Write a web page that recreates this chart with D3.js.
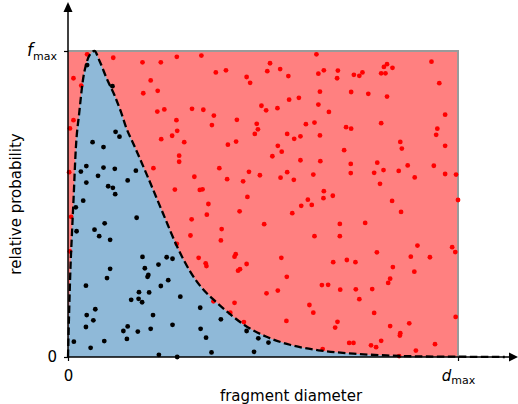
<!DOCTYPE html>
<html>
<head>
<meta charset="utf-8">
<script src="https://cdn.jsdelivr.net/npm/d3@7"></script>
<style>
  html, body { margin: 0; padding: 0; background: #fff; }
  svg text { font-family: "DejaVu Sans", sans-serif; fill: #000; }
</style>
</head>
<body>
<svg id="chart" width="518" height="404"></svg>
<script>
// ---- data (d = diameter / dmax, f = probability / fmax) ----
const xTickValues = [0, 1];
const xTickMain = ["0", "d"];
const xTickSub = ["", "max"];
const yTickValues = [0, 1];
const yTickMain = ["0", "f"];
const yTickSub = ["", "max"];
const xLabel = "fragment diameter";
const yLabel = "relative probability";

// dashed probability density curve
const curveD = [0, 0.003, 0.006, 0.010, 0.014, 0.020, 0.029, 0.039, 0.046, 0.057, 0.068, 0.080, 0.099, 0.119, 0.136, 0.150, 0.169, 0.206, 0.244, 0.283, 0.313, 0.343, 0.377, 0.411, 0.454, 0.509, 0.569, 0.642, 0.732, 0.817, 0.900, 1.000, 1.120];
const curveF = [0, 0.15, 0.28, 0.40, 0.51, 0.68, 0.80, 0.911, 0.954, 0.99, 1.0, 0.97, 0.911, 0.856, 0.80, 0.747, 0.693, 0.584, 0.468, 0.352, 0.280, 0.226, 0.183, 0.145, 0.103, 0.066, 0.040, 0.022, 0.011, 0.005, 0.002, 0.001, 0];

// accepted samples (black, under the curve)
const acceptedD = [0.049, 0.114, 0.122, 0.132, 0.063, 0.091, 0.033, 0.047, 0.091, 0.120, 0.077, 0.174, 0.047, 0.153, 0.103, 0.115, 0.121, 0.039, 0.020, 0.176, 0.094, 0.022, 0.068, 0.080, 0.108, 0.191, 0.253, 0.268, 0.232, 0.197, 0.108, 0.206, 0.204, 0.100, 0.257, 0.046, 0.238, 0.182, 0.208, 0.288, 0.162, 0.181, 0.190, 0.070, 0.048, 0.218, 0.065, 0.046, 0.153, 0.142, 0.212, 0.268, 0.179, 0.151, 0.093, 0.015, 0.058, 0.233, 0.280, 0.339, 0.392, 0.340, 0.354, 0.458, 0.488, 0.514, 0.368, 0.477];
const acceptedF = [0.954, 0.885, 0.736, 0.720, 0.702, 0.686, 0.606, 0.624, 0.619, 0.615, 0.592, 0.609, 0.570, 0.577, 0.558, 0.553, 0.532, 0.511, 0.489, 0.455, 0.437, 0.411, 0.416, 0.395, 0.383, 0.327, 0.326, 0.321, 0.302, 0.290, 0.288, 0.268, 0.262, 0.258, 0.251, 0.233, 0.232, 0.212, 0.211, 0.197, 0.187, 0.190, 0.179, 0.156, 0.137, 0.137, 0.120, 0.098, 0.100, 0.085, 0.092, 0.105, 0.083, 0.059, 0.052, 0.050, 0.030, 0.007, 0.000, 0.161, 0.123, 0.092, 0.063, 0.085, 0.061, 0.047, 0.015, 0.017];

// rejected samples (red, above the curve)
const rejectedD = [0.049, 0.116, 0.191, 0.238, 0.279, 0.014, 0.034, 0.212, 0.193, 0.230, 0.318, 0.247, 0.229, 0.014, 0.005, 0.278, 0.280, 0.267, 0.239, 0.298, 0.342, 0.637, 0.518, 0.379, 0.405, 0.511, 0.544, 0.565, 0.642, 0.656, 0.458, 0.467, 0.646, 0.567, 0.592, 0.642, 0.347, 0.496, 0.508, 0.537, 0.374, 0.369, 0.433, 0.484, 0.487, 0.479, 0.610, 0.632, 0.562, 0.580, 0.596, 0.646, 0.410, 0.431, 0.538, 0.548, 0.932, 0.692, 0.690, 0.733, 0.747, 0.755, 0.803, 0.814, 0.810, 0.818, 0.832, 0.952, 0.726, 0.770, 0.818, 0.669, 0.967, 0.803, 0.713, 0.726, 0.947, 0.944, 0.852, 0.856, 0.967, 0.708, 0.285, 0.285, 0.219, 0.324, 0.274, 0.317, 0.314, 0.279, 0.003, 0.008, 0.005, 0.524, 0.596, 0.647, 0.388, 0.464, 0.408, 0.449, 0.492, 0.545, 0.562, 0.579, 0.629, 0.338, 0.345, 0.656, 0.460, 0.360, 0.615, 0.598, 0.625, 0.655, 0.356, 0.440, 0.575, 0.503, 0.394, 0.392, 0.632, 0.430, 0.725, 0.793, 0.871, 0.938, 0.725, 0.785, 0.809, 0.848, 0.889, 0.967, 0.995, 0.800, 0.679, 0.831, 1.000, 0.854, 0.697, 0.762, 0.697, 0.896, 0.985, 0.993, 0.792, 0.879, 0.928, 0.680, 0.715, 0.737, 0.833, 0.888, 0.826, 0.821, 0.651, 0.667, 0.698, 0.738, 0.780, 0.747, 0.785, 0.994, 0.691, 0.685, 0.875, 0.826, 0.852, 0.851, 0.803, 0.721, 0.732, 0.777, 0.790, 0.941, 0.892, 0.653, 0.849, 0.335, 0.353, 0.355, 0.427, 0.458, 0.436, 0.441, 0.547, 0.561, 0.509, 0.538, 0.427, 0.373, 0.416, 0.451, 0.619, 0.629, 0.560];
const rejectedF = [0.989, 0.978, 0.963, 0.963, 0.981, 0.911, 0.887, 0.904, 0.862, 0.870, 0.811, 0.809, 0.802, 0.774, 0.747, 0.774, 0.739, 0.723, 0.712, 0.702, 0.985, 0.989, 0.960, 0.930, 0.937, 0.934, 0.941, 0.918, 0.926, 0.937, 0.915, 0.896, 0.867, 0.841, 0.847, 0.825, 0.808, 0.821, 0.806, 0.813, 0.789, 0.758, 0.775, 0.762, 0.744, 0.729, 0.761, 0.766, 0.729, 0.713, 0.721, 0.724, 0.694, 0.704, 0.690, 0.671, 0.965, 0.936, 0.911, 0.922, 0.919, 0.930, 0.927, 0.927, 0.948, 0.957, 0.945, 0.895, 0.866, 0.860, 0.851, 0.801, 0.792, 0.764, 0.751, 0.746, 0.746, 0.726, 0.703, 0.681, 0.690, 0.676, 0.658, 0.638, 0.617, 0.589, 0.547, 0.450, 0.397, 0.370, 0.604, 0.458, 0.345, 0.656, 0.643, 0.640, 0.617, 0.605, 0.581, 0.574, 0.594, 0.586, 0.604, 0.579, 0.596, 0.546, 0.548, 0.542, 0.523, 0.500, 0.514, 0.494, 0.497, 0.519, 0.465, 0.476, 0.470, 0.434, 0.418, 0.381, 0.395, 0.336, 0.631, 0.635, 0.626, 0.625, 0.601, 0.602, 0.611, 0.608, 0.587, 0.598, 0.596, 0.566, 0.527, 0.510, 0.513, 0.474, 0.435, 0.438, 0.395, 0.364, 0.359, 0.343, 0.342, 0.328, 0.326, 0.310, 0.317, 0.310, 0.294, 0.279, 0.256, 0.242, 0.235, 0.236, 0.220, 0.221, 0.222, 0.189, 0.144, 0.131, 0.115, 0.096, 0.110, 0.101, 0.078, 0.070, 0.053, 0.046, 0.046, 0.038, 0.032, 0.042, 0.021, 0.026, 0.003, 0.324, 0.306, 0.297, 0.328, 0.304, 0.282, 0.287, 0.324, 0.262, 0.208, 0.217, 0.177, 0.182, 0.145, 0.114, 0.170, 0.145, 0.118];

// ---- drawing ----
const svg = d3.select("#chart");
const x = d3.scaleLinear().domain([0, 1]).range([68, 458]);
const y = d3.scaleLinear().domain([0, 1]).range([357, 51]);

// rejection region (bounding box)
svg.append("rect")
  .attr("x", x(0)).attr("y", y(1))
  .attr("width", x(1) - x(0)).attr("height", y(0) - y(1))
  .attr("fill", "#ff8080");
// grey edges of the box (top and right)
svg.append("path")
  .attr("d", `M${x(0)},${y(1)}H${x(1)}V${y(0)}`)
  .attr("fill", "none").attr("stroke", "#9a9a9a").attr("stroke-width", 2);

const curvePts = curveD.map((d, i) => [d, curveF[i]]);
const inBox = curvePts.filter(p => p[0] <= 1);

svg.append("path")
  .datum(inBox)
  .attr("d", d3.area().x(p => x(p[0])).y0(y(0)).y1(p => y(p[1])).curve(d3.curveMonotoneX))
  .attr("fill", "#8fb9d8");

// samples
svg.append("g").selectAll("circle")
  .data(rejectedD.map((d, i) => [d, rejectedF[i]]))
  .join("circle")
  .attr("cx", p => x(p[0])).attr("cy", p => y(p[1])).attr("r", 2.4)
  .attr("fill", "#ff0000");
svg.append("g").selectAll("circle")
  .data(acceptedD.map((d, i) => [d, acceptedF[i]]))
  .join("circle")
  .attr("cx", p => x(p[0])).attr("cy", p => y(p[1])).attr("r", 2.4)
  .attr("fill", "#000000");

// axes with arrows
const axisColor = "#000";
svg.append("line").attr("x1", x(0)).attr("x2", 511).attr("y1", y(0)).attr("y2", y(0))
  .attr("stroke", axisColor).attr("stroke-width", 1.5);
svg.append("path").attr("d", `M518,${y(0)}L509,${y(0) - 4.5}L509,${y(0) + 4.5}Z`).attr("fill", axisColor);
svg.append("line").attr("x1", x(0)).attr("x2", x(0)).attr("y1", y(0)).attr("y2", 12)
  .attr("stroke", axisColor).attr("stroke-width", 1.5);
svg.append("path").attr("d", `M${x(0)},2L${x(0) - 4.5},12L${x(0) + 4.5},12Z`).attr("fill", axisColor);

// dashed density curve
svg.append("path")
  .datum(curvePts)
  .attr("d", d3.line().x(p => x(p[0])).y(p => y(p[1])).curve(d3.curveMonotoneX))
  .attr("fill", "none").attr("stroke", "#000").attr("stroke-width", 2.3)
  .attr("stroke-dasharray", "7.5,3.5");

// ticks
const xAxis = d3.axisBottom(x).tickValues(xTickValues).tickSize(4).tickPadding(6).tickFormat(() => "");
const gx = svg.append("g").attr("transform", `translate(0,${y(0)})`).call(xAxis);
gx.select(".domain").remove();
gx.selectAll(".tick line").attr("stroke", "#000").attr("stroke-width", 1.2);
gx.selectAll(".tick text").each(function(d, i) {
  const t = d3.select(this).attr("font-size", 15).attr("dy", "0.9em").text(null);
  const main = t.append("tspan").text(xTickMain[i]);
  if (xTickSub[i]) {
    main.attr("font-style", "italic");
    t.append("tspan").text(xTickSub[i]).attr("font-size", 11).attr("dy", 3);
  }
});

const yAxis = d3.axisLeft(y).tickValues(yTickValues).tickSize(4).tickPadding(7).tickFormat(() => "");
const gy = svg.append("g").attr("transform", `translate(${x(0)},0)`).call(yAxis);
gy.select(".domain").remove();
gy.selectAll(".tick line").attr("stroke", "#000").attr("stroke-width", 1.2);
gy.selectAll(".tick text").each(function(d, i) {
  const t = d3.select(this).attr("font-size", 15).text(null);
  const main = t.append("tspan").text(yTickMain[i]);
  if (yTickSub[i]) {
    main.attr("font-style", "italic").attr("font-size", 17);
    t.append("tspan").text(yTickSub[i]).attr("font-size", 11).attr("dy", 4);
  }
});

// axis titles
svg.append("text").attr("x", 291).attr("y", 401).attr("text-anchor", "middle")
  .attr("font-size", 15).text(xLabel);
svg.append("text").attr("transform", "translate(21,204) rotate(-90)").attr("text-anchor", "middle")
  .attr("font-size", 15).text(yLabel);
</script>
</body>
</html>
